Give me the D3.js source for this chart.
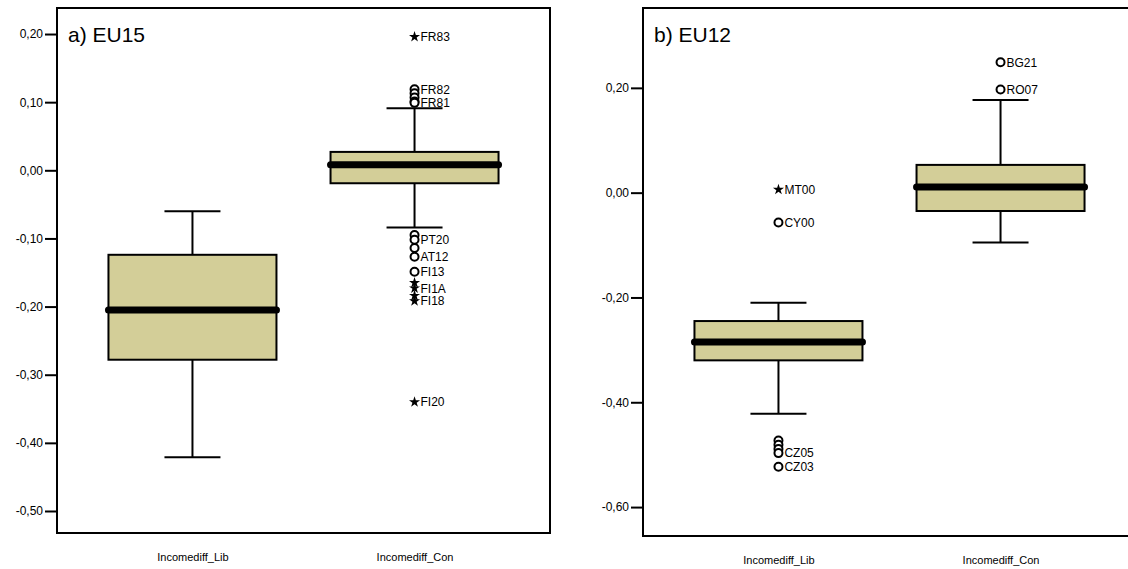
<!DOCTYPE html>
<html>
<head>
<meta charset="utf-8">
<script src="https://cdn.jsdelivr.net/npm/d3@7"></script>
<style>
  html, body { margin: 0; padding: 0; background: #fff; }
  svg { display: block; font-family: "Liberation Sans", Arial, sans-serif; }
</style>
</head>
<body>
<svg id="chart" width="1128" height="569"></svg>
<script>
// Variables on the x axis
const categories = ["Incomediff_Lib", "Incomediff_Con"];

// Panel a) EU15 — box summaries [lowWhisker, q1, median, q3, highWhisker]
const eu15Lib = [-0.421, -0.278, -0.205, -0.124, -0.060];
const eu15Con = [-0.084, -0.019, 0.008, 0.027, 0.091];
// outliers: value, kind ("o" = outlier, "*" = extreme), label
const eu15LibOut = [];
const eu15ConOut = [
  [0.196, "*", "FR83"],
  [0.119, "o", "FR82"],
  [0.113, "o", ""],
  [0.107, "o", ""],
  [0.101, "o", ""],
  [0.099, "o", "FR81"],
  [-0.095, "o", ""],
  [-0.102, "o", "PT20"],
  [-0.114, "o", ""],
  [-0.127, "o", "AT12"],
  [-0.149, "o", "FI13"],
  [-0.165, "*", ""],
  [-0.173, "*", "FI1A"],
  [-0.184, "*", ""],
  [-0.192, "*", "FI18"],
  [-0.340, "*", "FI20"]
];
const eu15Ticks = [0.2, 0.1, 0.0, -0.1, -0.2, -0.3, -0.4, -0.5];

// Panel b) EU12
const eu12Lib = [-0.422, -0.320, -0.285, -0.245, -0.210];
const eu12Con = [-0.095, -0.035, 0.011, 0.053, 0.177];
const eu12LibOut = [
  [0.006, "*", "MT00"],
  [-0.057, "o", "CY00"],
  [-0.473, "o", ""],
  [-0.481, "o", ""],
  [-0.489, "o", ""],
  [-0.497, "o", "CZ05"],
  [-0.523, "o", "CZ03"]
];
const eu12ConOut = [
  [0.249, "o", "BG21"],
  [0.197, "o", "RO07"]
];
const eu12Ticks = [0.2, 0.0, -0.2, -0.4, -0.6];

const panels = [
  { title: "a) EU15", left: 57, right: 550, top: 8, bottom: 533,
    domain: [-0.5323, 0.2382], ticks: eu15Ticks,
    boxes: [eu15Lib, eu15Con], outliers: [eu15LibOut, eu15ConOut] },
  { title: "b) EU12", left: 643, right: 1136, top: 8, bottom: 536,
    domain: [-0.6552, 0.3524], ticks: eu12Ticks,
    boxes: [eu12Lib, eu12Con], outliers: [eu12LibOut, eu12ConOut] }
];

const svg = d3.select("#chart");
const fmt = v => d3.format(".2f")(v).replace("−", "-").replace(".", ",");
const boxFill = "#d3ce98";

panels.forEach(p => {
  const g = svg.append("g");
  const x = d3.scalePoint().domain(categories).range([p.left, p.right]).padding(0.61);
  const y = d3.scaleLinear().domain(p.domain).range([p.bottom, p.top]);

  // frame
  g.append("rect")
    .attr("x", p.left).attr("y", p.top)
    .attr("width", p.right - p.left).attr("height", p.bottom - p.top)
    .attr("fill", "none").attr("stroke", "#000").attr("stroke-width", 2);

  // y axis
  const yAxis = d3.axisLeft(y).tickValues(p.ticks).tickSize(12).tickPadding(2).tickFormat(fmt);
  const ya = g.append("g").attr("transform", `translate(${p.left},0)`).call(yAxis);
  ya.select(".domain").remove();
  ya.selectAll(".tick line").attr("stroke", "#000").attr("stroke-width", 2);
  ya.selectAll(".tick text").attr("fill", "#000").style("font-size", "12px")
    .style("font-family", "'Liberation Sans', Arial, sans-serif");

  // x axis labels
  const xAxis = d3.axisBottom(x).tickSize(0).tickPadding(20);
  const xa = g.append("g").attr("transform", `translate(0,${p.bottom})`).call(xAxis);
  xa.select(".domain").remove();
  xa.selectAll(".tick text").attr("fill", "#000").style("font-size", "11px")
    .style("font-family", "'Liberation Sans', Arial, sans-serif");

  // title
  g.append("text").attr("x", p.left + 11).attr("y", p.top + 34)
    .style("font-size", "21px").attr("fill", "#000").text(p.title);

  const boxHalf = 84, capHalf = 28;
  categories.forEach((c, i) => {
    const [lo, q1, med, q3, hi] = p.boxes[i];
    const cx = x(c);
    // whiskers
    g.append("line").attr("x1", cx).attr("x2", cx).attr("y1", y(hi)).attr("y2", y(q3))
      .attr("stroke", "#000").attr("stroke-width", 2);
    g.append("line").attr("x1", cx).attr("x2", cx).attr("y1", y(q1)).attr("y2", y(lo))
      .attr("stroke", "#000").attr("stroke-width", 2);
    [lo, hi].forEach(v => {
      g.append("line").attr("x1", cx - capHalf).attr("x2", cx + capHalf)
        .attr("y1", y(v)).attr("y2", y(v)).attr("stroke", "#000").attr("stroke-width", 2);
    });
    // box
    g.append("rect").attr("x", cx - boxHalf).attr("y", y(q3))
      .attr("width", boxHalf * 2).attr("height", y(q1) - y(q3))
      .attr("fill", boxFill).attr("stroke", "#000").attr("stroke-width", 2);
    // median
    g.append("line").attr("x1", cx - boxHalf).attr("x2", cx + boxHalf)
      .attr("y1", y(med)).attr("y2", y(med))
      .attr("stroke", "#000").attr("stroke-width", 7).attr("stroke-linecap", "round");

    // outliers
    p.outliers[i].forEach(([v, kind, label]) => {
      if (kind === "o") {
        g.append("circle").attr("cx", cx).attr("cy", y(v)).attr("r", 4)
          .attr("fill", "#fff").attr("stroke", "#000").attr("stroke-width", 2);
      } else {
        g.append("path").attr("transform", `translate(${cx},${y(v)})`)
          .attr("d", d3.symbol().type(d3.symbolStar).size(38)())
          .attr("fill", "#000");
      }
    });
    p.outliers[i].filter(d => d[2]).forEach(([v, kind, label]) => {
      g.append("text").attr("x", cx + 6).attr("y", y(v)).attr("dy", "0.36em")
        .style("font-size", "12px").attr("fill", "#000").text(label);
    });
  });
});
</script>
</body>
</html>
